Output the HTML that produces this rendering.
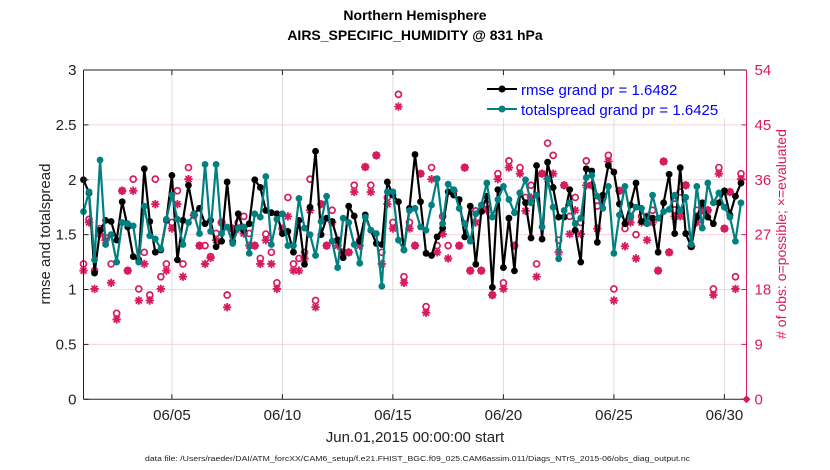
<!DOCTYPE html>
<html><head><meta charset="utf-8"><style>
body{margin:0;background:#fff;}
svg{display:block;font-family:"Liberation Sans",sans-serif;}
</style></head><body>
<svg id="chart" width="830" height="470" viewBox="0 0 830 470">
<rect x="0" y="0" width="830" height="470" fill="#fff"/>
<g id="grid"></g><g id="obs"></g><g id="lines"></g><g id="axes"></g>
<text x="415" y="20" text-anchor="middle" font-size="14" font-weight="bold">Northern Hemisphere</text>
<text x="415" y="40" text-anchor="middle" font-size="14" font-weight="bold">AIRS_SPECIFIC_HUMIDITY @ 831 hPa</text>
<text transform="translate(50,234) rotate(-90)" text-anchor="middle" font-size="15" fill="#222">rmse and totalspread</text>
<text transform="translate(786,234) rotate(-90)" text-anchor="middle" font-size="14" fill="#d81b60"># of obs: o=possible; ×=evaluated</text>
<text x="415" y="442" text-anchor="middle" font-size="15" fill="#222">Jun.01,2015 00:00:00 start</text>
<text x="145" y="461" font-size="7" fill="#222" textLength="545" lengthAdjust="spacingAndGlyphs">data file: /Users/raeder/DAI/ATM_forcXX/CAM6_setup/f.e21.FHIST_BGC.f09_025.CAM6assim.011/Diags_NTrS_2015-06/obs_diag_output.nc</text>
<g>
<rect x="484" y="78" width="258" height="40" fill="#fff"/>
<line x1="487" y1="89" x2="517" y2="89" stroke="#000" stroke-width="2"/><circle cx="502" cy="89" r="3.5" fill="#000"/>
<text x="521" y="95" font-size="15" fill="#0000ff">rmse grand pr = 1.6482</text>
<line x1="487" y1="109" x2="517" y2="109" stroke="#008080" stroke-width="2"/><circle cx="502" cy="109" r="3.5" fill="#008080"/>
<text x="521" y="115" font-size="15" fill="#0000ff">totalspread grand pr = 1.6425</text>
</g>
</svg>
<script>
const rmse=[2.0,1.88,1.15,1.54,1.63,1.62,1.45,1.80,1.57,1.30,1.27,2.10,1.62,1.34,1.36,1.63,2.04,1.27,1.63,1.95,1.69,1.74,1.60,1.63,1.39,1.44,1.98,1.44,1.69,1.54,1.60,2.0,
1.93,1.72,1.70,1.69,1.51,1.53,1.34,1.63,1.23,1.75,2.26,1.50,1.65,1.62,1.45,1.29,1.76,1.67,1.44,1.68,1.54,1.42,1.41,1.98,1.86,1.80,1.36,1.74,2.23,1.80,
1.33,1.31,1.48,1.56,1.89,1.86,1.82,1.48,1.76,1.23,1.71,1.85,1.02,1.91,1.20,1.65,1.17,1.88,1.79,1.47,2.13,1.46,2.16,1.93,1.66,1.66,1.91,1.54,1.25,2.10,2.08,
1.43,1.86,2.13,2.07,1.78,1.60,1.77,1.97,1.62,1.66,1.65,1.34,1.79,2.05,1.51,2.11,1.51,1.39,1.66,1.79,1.66,1.60,1.79,1.90,1.68,1.85,1.97];
const spread=[1.71,1.89,1.27,2.18,1.41,1.50,1.25,1.61,1.60,1.58,1.25,1.76,1.49,1.46,1.37,1.64,1.86,1.64,1.41,1.61,1.69,1.51,2.14,1.53,2.14,1.51,1.57,1.42,1.56,1.57,1.33,1.69,
1.66,2.03,1.41,1.64,1.69,1.40,1.40,1.83,1.56,1.50,1.31,1.62,1.85,1.44,1.20,1.65,1.61,1.41,1.24,1.66,1.54,1.51,1.03,1.89,1.89,1.45,1.36,1.72,1.74,1.57,
1.54,1.77,2.01,1.60,1.96,1.91,1.74,1.60,1.44,1.69,1.77,1.97,1.66,1.82,1.94,1.82,1.70,1.88,2.00,1.79,1.86,1.57,2.01,1.75,1.28,1.72,1.79,1.60,1.65,2.02,2.04,
1.85,1.74,1.94,1.33,1.68,1.94,1.66,1.75,1.74,1.60,1.86,1.65,1.71,1.73,1.86,1.72,1.84,1.41,1.94,1.56,1.97,1.79,1.88,1.75,1.66,1.44,1.79];
const possible=[22.2,29.5,21.1,28,26.5,22.2,14.1,34.2,21.1,36.1,18.1,24.1,17.1,36.1,20.1,22.2,29,34.2,22.2,38,30.2,25.2,25.2,23.4,27.2,29,17.1,28,29,30,27.2,25.2,
23.1,27.1,24.1,19.1,28,33.1,22.2,23.1,24.1,36.1,16.2,32,25.2,31,26.1,24.1,24.1,35.1,26.1,38.1,35.1,40,24.1,33.1,29,50,20.1,29,25.2,37,
15.2,38,25.2,30,25.2,34.2,25.2,38,21.1,30.9,21.1,32,17.1,37,19.1,39.1,25.2,38,33.1,35.1,22.2,37,42,40,26.1,35.1,30,33.1,29,39.1,35.1,
31.7,33.1,40,18.1,34.2,28,30,27,30,30,31,21.1,39,24.1,32,34,35.1,25.1,31,31,31,18.1,38,28,34,20.1,37];
const evaluated=[21.1,29,18.1,27.1,26.1,19.1,13.1,34.2,21.1,34.2,16.2,22.2,16.2,32,18.1,21.1,28,32,20.1,36.1,30.2,25.2,22.2,23.2,26.1,29,15.1,28,28,27.2,25.2,25.2,
22.2,26.1,22.2,18.1,28,30,21.1,21.1,23.1,31,15.1,32,25.2,29,25.2,24.1,24.1,34,25.2,38.1,34,40,22.2,32,28,48,19.1,28,25.2,37,
14.2,36.1,24.1,27.1,23.1,34.2,25.2,38,21.1,29,21.1,31,17.1,36.1,18.1,38,25.2,37,30.9,33.1,20.1,37,36.1,37,24.1,35.1,27.1,31,27.1,35.1,35.1,
28,33.1,39,16.2,34.2,25.1,29,23.1,29,26.1,29,21.1,39,24.1,30,30,35.1,25.1,29,31,31,17.1,37,28,34,18.1,36.1];
const leftTicks=[0,0.5,1,1.5,2,2.5,3];
const rightTicks=[0,9,18,27,36,45,54];
const dateTicks=[5,10,15,20,25,30];
const dateLabels=["06/05","06/10","06/15","06/20","06/25","06/30"];

const X0=83.5,X1=746.5,Y0=399.3,Y1=70;
const xs=d=>X0+(d-1)/(31-1)*(X1-X0);
const ys=v=>Y0-v/3*(Y0-Y1);
const yr=v=>Y0-v/54*(Y0-Y1);
const tday=i=>1+i*0.25;
const NS='http://www.w3.org/2000/svg';
function mk(tag,attrs,parent){const e=document.createElementNS(NS,tag);for(const k in attrs)e.setAttribute(k,attrs[k]);parent.appendChild(e);return e;}
const grid=document.getElementById('grid'),obs=document.getElementById('obs'),lines=document.getElementById('lines'),axes=document.getElementById('axes');

leftTicks.forEach((v,k)=>{
  if(v>0&&v<3){const g=mk('line',{x1:X0,x2:X1,y1:ys(v),y2:ys(v),stroke:'#f6d3e0','stroke-width':1},grid);
  
  }
  const t=mk('text',{x:X0-7,y:ys(v)+5,'text-anchor':'end','font-size':15,fill:'#222'},axes);t.textContent=String(v);
  
  
  mk('line',{x1:X0,x2:X0+5,y1:ys(v),y2:ys(v),stroke:'#222'},axes);
});
rightTicks.forEach(v=>{
  const t=mk('text',{x:X1+8,y:yr(v)+5,'font-size':15,fill:'#d81b60'},axes);t.textContent=String(v);
  
  
  mk('line',{x1:X1-5,x2:X1,y1:yr(v),y2:yr(v),stroke:'#d81b60'},axes);
});
dateTicks.forEach((d,k)=>{
  const g=mk('line',{x1:xs(d),x2:xs(d),y1:Y1,y2:Y0,stroke:'#dcdcdc','stroke-width':1},grid);
  
  
  mk('line',{x1:xs(d),x2:xs(d),y1:Y0,y2:Y0-5,stroke:'#222'},axes);
  mk('line',{x1:xs(d),x2:xs(d),y1:Y1,y2:Y1+5,stroke:'#222'},axes);
  const t=mk('text',{x:xs(d),y:420,'text-anchor':'middle','font-size':15,fill:'#222'},axes);t.textContent=dateLabels[k];
  
  
});
mk('line',{x1:X0,x2:X1,y1:Y1,y2:Y1,stroke:'#222'},axes);
mk('line',{x1:X0,x2:X1,y1:Y0,y2:Y0,stroke:'#222'},axes);
mk('line',{x1:X0,x2:X0,y1:Y1,y2:Y0,stroke:'#222'},axes);
mk('line',{x1:X1,x2:X1,y1:Y1,y2:Y0,stroke:'#d81b60'},axes);
const zm=mk('path',{d:`M${X1} ${Y0-4}L${X1+4} ${Y0}L${X1} ${Y0+4}L${X1-4} ${Y0}Z`,fill:'#d81b60'},axes);



possible.forEach((v,i)=>{
  const c=mk('circle',{cx:xs(tday(i)),cy:yr(v),r:3,fill:'#fff',stroke:'#d81b60','stroke-width':1.7},obs);
  
  
});
evaluated.forEach((v,i)=>{
  const x=xs(tday(i)),y=yr(v),r=4.2;
  const p=mk('path',{d:`M${x-r} ${y}H${x+r}M${x} ${y-r}V${y+r}M${x-3} ${y-3}L${x+3} ${y+3}M${x-3} ${y+3}L${x+3} ${y-3}`,stroke:'#d81b60','stroke-width':1.8,fill:'none'},obs);
  
  
});
function series(vals,color,name){
  const pl=mk('polyline',{points:vals.map((v,i)=>xs(tday(i))+','+ys(v)).join(' '),fill:'none',stroke:color,'stroke-width':2.2,'stroke-linejoin':'round'},lines);
  
  
  vals.forEach((v,i)=>{
    const c=mk('circle',{cx:xs(tday(i)),cy:ys(v),r:3.4,fill:color},lines);
    
    
  });
}
series(rmse,'#000','rmse');
series(spread,'#008080','totalspread');
</script>
</body></html>
